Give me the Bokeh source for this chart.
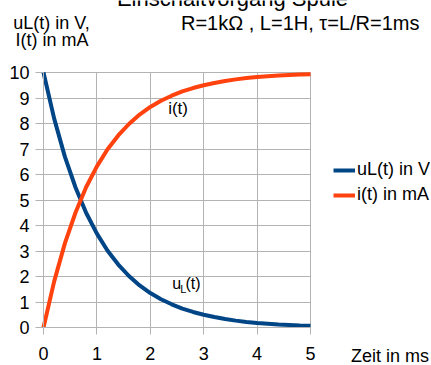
from bokeh.plotting import figure
from bokeh.models import Label, Legend, FixedTicker, Range1d
from bokeh.embed import file_html
from bokeh.resources import INLINE

# ---- data ----
t_ms = [0.0, 0.2, 0.4, 0.6, 0.8, 1.0, 1.2, 1.4, 1.6, 1.8, 2.0, 2.2, 2.4,
        2.6, 2.8, 3.0, 3.2, 3.4, 3.6, 3.8, 4.0, 4.2, 4.4, 4.6, 4.8, 5.0]
u_L_V = [10.0, 8.19, 6.70, 5.49, 4.49, 3.68, 3.01, 2.47, 2.02, 1.65, 1.35,
         1.11, 0.91, 0.74, 0.61, 0.50, 0.41, 0.33, 0.27, 0.22, 0.18, 0.15,
         0.12, 0.10, 0.08, 0.07]
i_mA = [0.0, 1.81, 3.30, 4.51, 5.51, 6.32, 6.99, 7.53, 7.98, 8.35, 8.65,
        8.89, 9.09, 9.26, 9.39, 9.50, 9.59, 9.67, 9.73, 9.78, 9.82, 9.85,
        9.88, 9.90, 9.92, 9.93]
x_ticks = [0, 1, 2, 3, 4, 5]
y_ticks = [0, 1, 2, 3, 4, 5, 6, 7, 8, 9, 10]
series_names = ["uL(t) in V", "i(t) in mA"]
title_text = "Einschaltvorgang Spule"
subtitle_text = "R=1kΩ , L=1H, τ=L/R=1ms"
ylabel_lines = ["uL(t) in V,", "I(t) in mA"]
xlabel_text = "Zeit in ms"

FONT = "Liberation Sans"
GRID = "#b3b3b3"
BLUE = "#004586"
ORANGE = "#ff420e"

W, H = 430, 363
# plot area: x 0..5 spans pixels 43..310, y 0..10 spans pixels 327..72
PX_X = 267 / 5.0
PX_Y = 255 / 10.0
X0, Y0 = 43, 327
x_rng = Range1d(-X0 / PX_X, (W - X0) / PX_X)
y_rng = Range1d(-(H - Y0) / PX_Y, Y0 / PX_Y)

p = figure(width=W, height=H, x_range=x_rng, y_range=y_rng,
           output_backend="svg", toolbar_location=None, title_location=None,
           min_border=0)
p.outline_line_color = None
p.background_fill_color = "white"
p.border_fill_color = "white"

p.xaxis.ticker = FixedTicker(ticks=x_ticks)
p.yaxis.ticker = FixedTicker(ticks=y_ticks)
p.xaxis.fixed_location = 0
p.yaxis.fixed_location = 0
p.xaxis.bounds = (x_ticks[0], x_ticks[-1])
p.yaxis.bounds = (y_ticks[0], y_ticks[-1])
for ax in (p.xaxis[0], p.yaxis[0]):
    ax.axis_line_color = GRID
    ax.major_tick_line_color = GRID
    ax.minor_tick_line_color = None
    ax.major_tick_in = 0
    ax.major_label_text_font = FONT
    ax.major_label_text_font_size = "18px"
    ax.major_label_text_color = "black"
p.yaxis.major_tick_out = 8
p.yaxis.major_label_standoff = 6
p.xaxis.major_tick_out = 7
p.xaxis.major_label_standoff = 12

p.xgrid.grid_line_color = GRID
p.ygrid.grid_line_color = GRID
p.xgrid.ticker = FixedTicker(ticks=x_ticks)
p.ygrid.ticker = FixedTicker(ticks=y_ticks)
p.xgrid.bounds = (x_ticks[0], x_ticks[-1])
p.ygrid.bounds = (y_ticks[0], y_ticks[-1])
p.xgrid.cross_bounds = (y_ticks[0], y_ticks[-1])
p.ygrid.cross_bounds = (x_ticks[0], x_ticks[-1])

r_u = p.line(t_ms, u_L_V, line_color=BLUE, line_width=4)
r_i = p.line(t_ms, i_mA, line_color=ORANGE, line_width=4)

legend = Legend(items=[(series_names[0], [r_u]), (series_names[1], [r_i])],
                location=(333, 158), orientation="vertical",
                padding=0, margin=0, spacing=4,
                glyph_width=22, glyph_height=20, label_height=20,
                label_standoff=2, border_line_color=None,
                background_fill_alpha=0,
                label_text_font=FONT, label_text_font_size="18px",
                label_text_color="black")
p.add_layout(legend)

SHIFT = 6  # baseline correction of the text renderer, in pixels

def lab(text, x, y, dx=0, dy=0, size="18px", align="left"):
    p.add_layout(Label(x=x, y=y, x_offset=dx, y_offset=dy + SHIFT, text=text,
                       text_font=FONT, text_font_size=size, text_color="black",
                       text_align=align, text_baseline="alphabetic"))

# header texts, anchored at the plot's top-left corner (0, 10)
lab(title_text, 0, 10, dx=189, dy=68, size="22px", align="center")
lab(subtitle_text, 0, 10, dx=137.5, dy=43.7, size="20px")
lab(ylabel_lines[0], 0, 10, dx=8, dy=43.7, align="center")
lab(ylabel_lines[1], 0, 10, dx=8.5, dy=26.5, align="center")
# x axis title, anchored at the plot's bottom-left corner (0, 0)
lab(xlabel_text, 0, 0, dx=307.6, dy=-34)

# curve annotations
lab("i(t)", 2.52, 8.35, align="center", size="17px")
lab("u", 2.41, 1.49, size="16px")
lab("L", 2.562, 1.294, size="11px")
lab("(t)", 2.659, 1.49, size="16px")

open("out.html", "w").write(file_html(p, INLINE))
